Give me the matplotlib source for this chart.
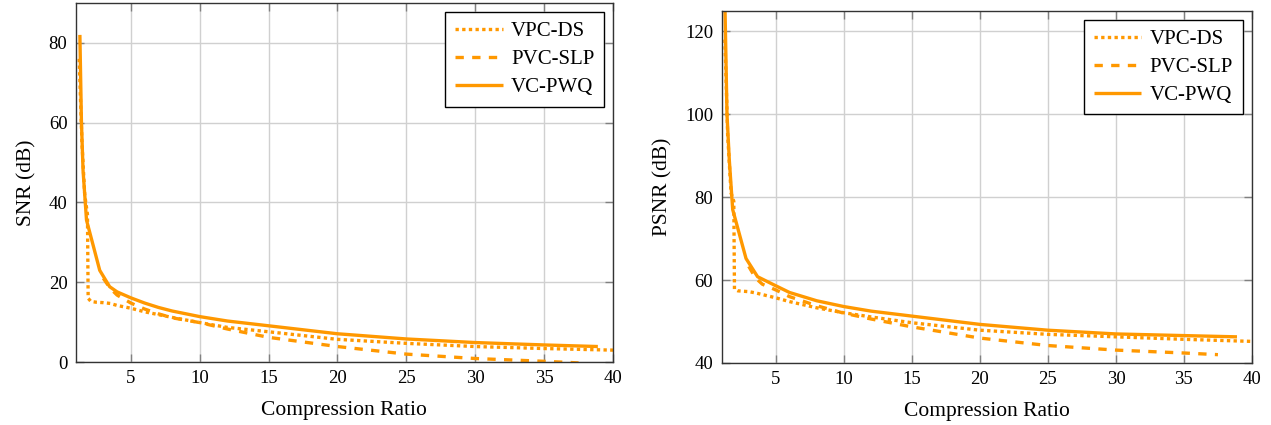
import matplotlib
matplotlib.use("Agg")
import matplotlib.pyplot as plt

# ---- data ----
snr_vpcds_x = [1.25, 1.45, 1.65, 1.85, 1.9, 2.1, 2.5, 3.0, 3.5, 4, 5, 6, 7, 8, 10, 12, 15, 20, 25, 30, 35, 40]
snr_vpcds_y = [76, 55, 42, 37, 16, 15.2, 15.0, 14.9, 14.7, 14.2, 13.5, 12.6, 11.9, 11.2, 9.9, 8.7, 7.6, 5.7, 4.7, 3.9, 3.4, 3.0]
snr_pvcslp_x = [3, 3.5, 4, 5, 6, 7, 8, 10, 12, 15, 20, 25, 30, 35, 37.5]
snr_pvcslp_y = [21, 18.5, 16.8, 14.8, 13.3, 12.1, 11.1, 9.9, 8.3, 6.2, 3.9, 2.0, 0.9, 0.2, -0.2]
snr_vcpwq_x = [1.3, 1.41, 1.53, 1.78, 2.74, 3.46, 4, 5, 6, 7, 8, 10, 12, 15, 20, 25, 30, 35, 38.9]
snr_vcpwq_y = [82, 60.6, 48, 35.6, 23, 18.9, 17.6, 16.1, 14.8, 13.7, 12.8, 11.4, 10.3, 9.1, 7.1, 5.8, 4.9, 4.3, 3.9]

psnr_vpcds_x = [1.25, 1.45, 1.7, 1.9, 1.95, 2.2, 3.0, 3.5, 4, 5, 6, 8, 10, 12, 15, 20, 25, 30, 35, 40]
psnr_vpcds_y = [118, 95, 81, 79, 57.8, 57.4, 57.2, 56.9, 56.5, 55.7, 54.8, 53.3, 52.1, 51.1, 49.7, 47.9, 46.9, 46.3, 45.7, 45.2]
psnr_pvcslp_x = [3, 3.5, 4, 5, 6, 8, 10, 12, 15, 20, 25, 30, 35, 37.5]
psnr_pvcslp_y = [63.3, 60.5, 59.0, 57.6, 56.0, 53.8, 52.0, 50.6, 48.7, 46.0, 44.2, 43.1, 42.4, 42.0]
psnr_vcpwq_x = [1.2, 1.4, 1.57, 1.82, 2.8, 3.65, 5, 6, 8, 10, 12, 15, 20, 25, 30, 35, 38.9]
psnr_vcpwq_y = [135, 100, 89, 77, 65.2, 60.8, 58.6, 57.0, 55.0, 53.6, 52.5, 51.3, 49.3, 47.9, 47.0, 46.6, 46.3]

labels = ["VPC-DS", "PVC-SLP", "VC-PWQ"]
xticks = [5, 10, 15, 20, 25, 30, 35, 40]
snr_yticks = [0, 20, 40, 60, 80]
psnr_yticks = [40, 60, 80, 100, 120]

# ---- style ----
plt.rcParams['font.family'] = ['Liberation Serif', 'DejaVu Serif']
color = '#ff9800'
lw = 2.4
styles = [(0, (1, 1)), (0, (2.5, 2.5)), '-']

fig = plt.figure(figsize=(12.71, 4.25), dpi=100)
ax1 = fig.add_axes([0.0596, 0.148, 0.4227, 0.845])
ax2 = fig.add_axes([0.5677, 0.146, 0.4173, 0.829])

def setup(ax, series, yticks, ylim, ylabel):
    for (xs, ys), ls, lab in zip(series, styles, labels):
        ax.plot(xs, ys, color=color, lw=lw, linestyle=ls, label=lab,
                dash_capstyle='butt', solid_capstyle='butt', solid_joinstyle='round')
    ax.set_xlim(1, 40)
    ax.set_ylim(*ylim)
    ax.set_xticks(xticks)
    ax.set_yticks(yticks)
    ax.grid(True, color='#d0d0d0', lw=1.0)
    ax.set_axisbelow(True)
    ax.tick_params(direction='in', length=6, width=1.0, color='#808080',
                   top=True, right=True, labelsize=13.5, pad=6)
    for s in ax.spines.values():
        s.set_linewidth(1.0)
        s.set_color('#333333')
    ax.set_xlabel("Compression Ratio", fontsize=15.5, labelpad=10)
    ax.set_ylabel(ylabel, fontsize=15.5, labelpad=9)
    leg = ax.legend(loc='upper right', fontsize=15, frameon=True, fancybox=False,
                    edgecolor='black', framealpha=1, handlelength=2.3,
                    borderaxespad=0.45, labelspacing=0.4, handletextpad=0.4,
                    borderpad=0.45)
    leg.get_frame().set_linewidth(1.0)

setup(ax1, [(snr_vpcds_x, snr_vpcds_y), (snr_pvcslp_x, snr_pvcslp_y), (snr_vcpwq_x, snr_vcpwq_y)],
      snr_yticks, (0, 90), "SNR (dB)")
setup(ax2, [(psnr_vpcds_x, psnr_vpcds_y), (psnr_pvcslp_x, psnr_pvcslp_y), (psnr_vcpwq_x, psnr_vcpwq_y)],
      psnr_yticks, (40, 125), "PSNR (dB)")

fig.savefig("out.png", dpi=100)
